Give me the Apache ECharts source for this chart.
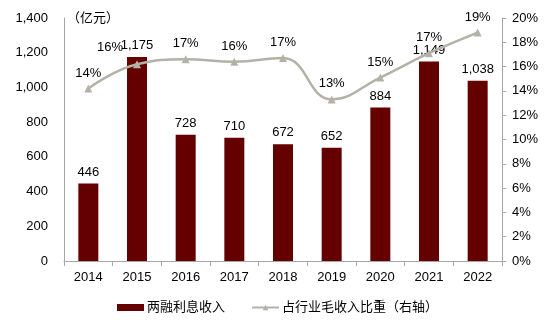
<!DOCTYPE html>
<html>
<head>
<meta charset="utf-8">
<script src="https://cdn.jsdelivr.net/npm/echarts@6/dist/echarts.min.js"></script>
<style>
  html, body { margin: 0; padding: 0; background: #fff; }
  #chart { width: 550px; height: 322px; }
</style>
</head>
<body>
<div id="chart"></div>
<script>
// Margin-financing interest income (100M CNY) and its share of industry gross revenue
const years = ['2014', '2015', '2016', '2017', '2018', '2019', '2020', '2021', '2022'];
const interestIncome = [446, 1175, 728, 710, 672, 652, 884, 1149, 1038];
const incomeShare = [14.2, 16.2, 16.6, 16.4, 16.7, 13.3, 15.1, 17.1, 18.8];
const leftTicks = { min: 0, max: 1400, interval: 200 };
const rightTicks = { min: 0, max: 20, interval: 2 };

const FONT = '"Liberation Sans", Arial, "Noto Sans CJK SC", sans-serif';
const BAR_COLOR = '#650000';
const LINE_COLOR = '#B4B2A6';
const AXIS_COLOR = '#A6A6A6';

const chart = echarts.init(document.getElementById('chart'), null, { renderer: 'canvas' });

const shareData = incomeShare.map((v, i) => {
  const item = { value: v };
  if (i === 1) {
    // 2015 label sits left of the bar's value label
    item.label = { offset: [-27, -1] };
  }
  return item;
});

chart.setOption({
  animation: false,
  textStyle: { fontFamily: FONT },
  grid: { left: 64, right: 48, top: 18, bottom: 61 },
  legend: {
    top: 296,
    left: 112,
    itemGap: 26,
    itemWidth: 27,
    itemHeight: 7,
    textStyle: { fontFamily: FONT, fontSize: 13, color: '#000', padding: [0, 0, 0, -2] },
    data: [
      { name: '两融利息收入', icon: 'rect' },
      { name: '占行业毛收入比重（右轴）' }
    ]
  },
  graphic: [{
    type: 'text',
    left: 67,
    top: 12,
    style: { text: '（亿元）', fontFamily: FONT, fontSize: 13, fill: '#000' }
  }],
  xAxis: {
    type: 'category',
    data: years,
    axisLine: { lineStyle: { color: AXIS_COLOR, width: 1 } },
    axisTick: { show: true, alignWithLabel: false, length: 5, lineStyle: { color: AXIS_COLOR } },
    axisLabel: { color: '#000', fontSize: 13, margin: 10, fontFamily: FONT }
  },
  yAxis: [{
    type: 'value',
    min: leftTicks.min, max: leftTicks.max, interval: leftTicks.interval,
    axisLine: { show: true, lineStyle: { color: AXIS_COLOR } },
    axisTick: { show: false },
    splitLine: { show: false },
    axisLabel: {
      color: '#000', fontSize: 13, margin: 16, fontFamily: FONT,
      formatter: v => v.toLocaleString('en-US')
    }
  }, {
    type: 'value',
    min: rightTicks.min, max: rightTicks.max, interval: rightTicks.interval,
    axisLine: { show: true, lineStyle: { color: AXIS_COLOR } },
    axisTick: { show: true, length: 4, lineStyle: { color: AXIS_COLOR } },
    splitLine: { show: false },
    axisLabel: {
      color: '#000', fontSize: 13, margin: 10, fontFamily: FONT,
      formatter: v => v + '%'
    }
  }],
  series: [{
    name: '两融利息收入',
    type: 'bar',
    data: interestIncome,
    barWidth: 20,
    itemStyle: { color: BAR_COLOR },
    label: {
      show: true, position: 'top', distance: 5,
      color: '#000', fontSize: 13, fontFamily: FONT,
      formatter: p => p.value.toLocaleString('en-US')
    },
    z: 2
  }, {
    name: '占行业毛收入比重（右轴）',
    type: 'line',
    yAxisIndex: 1,
    data: shareData,
    smooth: 0.45,
    symbol: 'triangle',
    symbolSize: 8,
    lineStyle: { color: LINE_COLOR, width: 2.5 },
    itemStyle: { color: LINE_COLOR },
    label: {
      show: true, position: 'top', distance: 5,
      color: '#000', fontSize: 13, fontFamily: FONT,
      formatter: p => Math.round(p.value) + '%'
    },
    z: 3
  }]
});
</script>
</body>
</html>
